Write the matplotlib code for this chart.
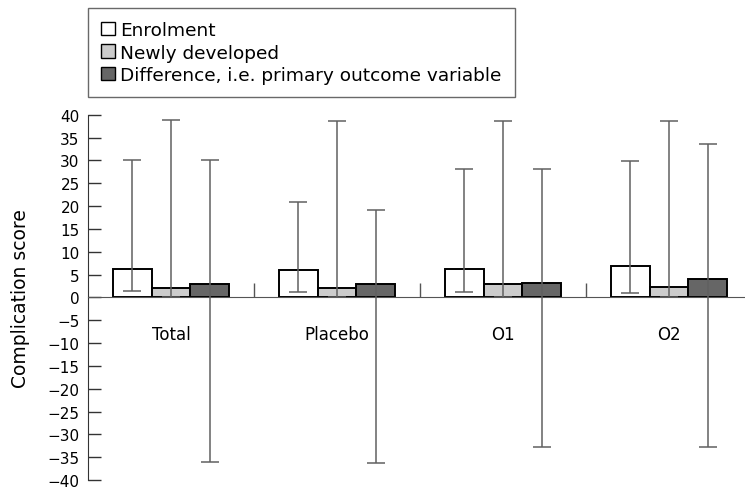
import numpy as np
import matplotlib
matplotlib.use("Agg")
import matplotlib.pyplot as plt
from matplotlib.patches import Patch

# data
groups = ["Total", "Placebo", "O1", "O2"]
series = ["Enrolment", "Newly developed", "Difference, i.e. primary outcome variable"]
colors = ["#ffffff", "#cccccc", "#666666"]

enrolment = [6.1, 6.0, 6.1, 6.9]
enrol_lo = [1.3, 1.2, 1.1, 0.9]
enrol_hi = [30.0, 20.9, 28.2, 29.8]

newly = [2.0, 2.0, 2.9, 2.3]
newly_lo = [0.0, 0.0, 0.0, 0.0]
newly_hi = [38.8, 38.6, 38.7, 38.7]

diff = [3.0, 3.0, 3.1, 4.1]
diff_lo = [-36.1, -36.3, -32.7, -32.8]
diff_hi = [30.0, 19.1, 28.2, 33.5]

values = [enrolment, newly, diff]
lows = [enrol_lo, newly_lo, diff_lo]
highs = [enrol_hi, newly_hi, diff_hi]

plt.rcParams['font.family'] = ['DejaVu Sans']

fig = plt.figure(figsize=(7.45, 4.89), dpi=100)
ax = fig.add_axes([88/745, 1 - 481/489, 1 - 88/745, (481 - 115.7)/489])

x = np.arange(len(groups))
w = 0.233
for k in range(3):
    xs = x + (k - 1)*w
    v = np.array(values[k])
    ax.bar(xs, v, width=w, color=colors[k], edgecolor='black', linewidth=1.4, zorder=2)
    yerr = [v - np.array(lows[k]), np.array(highs[k]) - v]
    ax.errorbar(xs, v, yerr=yerr, fmt='none', ecolor='#606060', elinewidth=1.1,
                capsize=6.5, capthick=1.1, zorder=3)

for i, g in enumerate(groups):
    ax.text(i, -8, g, ha='center', va='center', fontsize=12)

ax.set_xlim(-0.5, -0.5 + 657/166)
ax.set_ylim(-40, 40)
ax.set_yticks(np.arange(-40, 41, 5))
ax.set_yticklabels([str(t).replace('-', '\u2212') for t in range(-40, 41, 5)])
ax.tick_params(axis='y', direction='in', length=9.5, width=1, color='#333333',
               labelsize=11, pad=6)

ax.spines['top'].set_visible(False)
ax.spines['right'].set_visible(False)
ax.spines['bottom'].set_position(('data', 0))
ax.spines['bottom'].set_color('#555555')
ax.spines['left'].set_color('#333333')
ax.set_xticks([0.5, 1.5, 2.5])
ax.set_xticklabels([])
ax.tick_params(axis='x', direction='in', length=10, width=1, color='#555555')

ax.set_ylabel("Complication score", fontsize=13.5)
ax.yaxis.set_label_coords(-58/657, 0.5)

handles = [Patch(facecolor=c, edgecolor='black', linewidth=1) for c in colors]
leg = fig.legend(handles, series, loc='upper left', bbox_to_anchor=(88/745, 1 - 9/489),
                 fontsize=13.3, frameon=True, fancybox=False, handlelength=0.75,
                 handleheight=0.75, handletextpad=0.3, labelspacing=0.25,
                 borderpad=0.7, borderaxespad=0)
leg.get_frame().set_edgecolor('#444444')
leg.get_frame().set_linewidth(1)

fig.savefig("out.png", dpi=100)
